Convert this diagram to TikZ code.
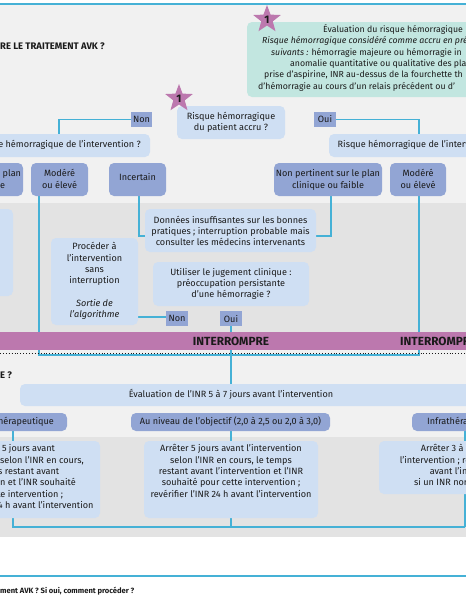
\documentclass[tikz,border=0pt]{standalone}
\usepackage{fontspec}
\setmainfont{Fira Sans}
\usetikzlibrary{shapes.geometric}
\definecolor{cline}{HTML}{45B1D6}
\definecolor{pale}{HTML}{CFDFF3}
\definecolor{chip}{HTML}{92A5D4}
\definecolor{teal}{HTML}{C2E6E0}
\definecolor{purp}{HTML}{BC78AE}
\definecolor{bgl}{HTML}{F1F1F1}
\definecolor{bgd}{HTML}{E3E3E3}
\definecolor{ink}{HTML}{1A1A1A}
\tikzset{x=1pt,y=-1pt,
 conn/.style={draw=cline,line width=1.3pt},
 tx/.style={text=ink,font=\fontsize{9.1}{11.3}\selectfont,align=center,inner sep=0pt},
 lab/.style={fill=chip,text=ink,font=\fontsize{9.1}{10}\selectfont,inner sep=0pt,minimum width=21.5pt,minimum height=15pt},
 starm/.style={star,star points=5,star point ratio=2.4,fill=purp,inner sep=0pt,minimum size=29pt,font=\bfseries\fontsize{11}{11}\selectfont,text=ink},
 head/.style={text=ink,font=\bfseries\fontsize{9.5}{11}\selectfont,inner sep=0pt,anchor=west}
}
\begin{document}
\begin{tikzpicture}
\useasboundingbox (0,0) rectangle (466,600);
\fill[white] (0,0) rectangle (466,600);
\fill[bgl] (0,4) rectangle (466,203);
\fill[bgd] (0,203) rectangle (466,332);
\fill[bgl] (0,350) rectangle (466,437);
\fill[bgd] (0,437) rectangle (466,537);
% frame lines
\draw[conn] (0,4) coordinate (t1) -- (466,4) coordinate (t2);
\draw[conn] (0,576) coordinate (b1) -- (466,576) coordinate (b2);
% connectors
\coordinate (nonL) at (131,119.5);
\coordinate (ouiR) at (336,119.5);
\coordinate (jA) at (39,355);
\coordinate (jB) at (419,355);
\coordinate (jO) at (231,384);
\draw[conn] (nonL) -| (59,134);
\draw[conn] (ouiR) -| (419,134);
\draw[conn] (39,196) -- (jA) -- (jB) -- (419,196);
\draw[conn] (139,196) |- (145,236);
\draw[conn] (331,196) |- (316,236);
\draw[conn] (138,317) -- (166,317);
\draw[conn] (231,326) -- (jO);
\draw[conn] (13,431) -- (13,441);
\draw[conn] (231,431) -- (231,441);
\draw[conn] (465,431) -- (465,527);
\draw[conn] (13,518) -- (13,527) -- (465,527);
\draw[conn] (231,518) -- (231,527);
% bar
\fill[purp] (0,332) rectangle (466,350);
\node[tx,font=\bfseries\fontsize{11.8}{13}\selectfont] (i1) at (231,341) {INTERROMPRE};
\node[tx,font=\bfseries\fontsize{11.8}{13}\selectfont,anchor=west] (i2) at (400,341) {INTERROMPRE};
\draw[ink,line width=.9pt,dotted] (0,353) -- (466,353);
% boxes
\begin{scope}
\clip (0,0) rectangle (466,600);
\fill[teal,rounded corners=5pt] (247,22) rectangle (520,97);
\fill[pale,rounded corners=5pt] (177,106) rectangle (285,139);
\fill[pale,rounded corners=5pt] (-40,134) rectangle (150,157);
\fill[pale,rounded corners=5pt] (329,134) rectangle (520,157);
\fill[chip,rounded corners=5pt] (-40,163) rectangle (23,196);
\fill[chip,rounded corners=5pt] (31,163) rectangle (88,196);
\fill[chip,rounded corners=5pt] (109,163) rectangle (166,196);
\fill[chip,rounded corners=5pt] (274,163) rectangle (382,196);
\fill[chip,rounded corners=5pt] (390,163) rectangle (446,196);
\fill[pale,rounded corners=5pt] (-40,209) rectangle (13,296);
\fill[pale,rounded corners=5pt] (145,209) rectangle (316,252);
\fill[pale,rounded corners=5pt] (153,262) rectangle (309,306);
\fill[pale,rounded corners=5pt] (51,238) rectangle (138,325);
\fill[pale,rounded corners=5pt] (20,384) rectangle (520,406);
\fill[chip,rounded corners=5pt] (-40,413) rectangle (67,431);
\fill[chip,rounded corners=5pt] (131,413) rectangle (330,431);
\fill[chip,rounded corners=5pt] (412,413) rectangle (520,431);
\fill[pale,rounded corners=5pt] (-40,441) rectangle (100,518);
\fill[pale,rounded corners=5pt] (144,441) rectangle (318,518);
\fill[pale,rounded corners=5pt] (379,441) rectangle (520,494);
% texts
\node[head] (h1) at (0,46) {RE LE TRAITEMENT AVK ?};
\node[head] (h2) at (0,375) {E ?};
\node[tx,anchor=west,font=\bfseries\fontsize{7.6}{9}\selectfont] (h3) at (0,591) {ment AVK ? Si oui, comment procéder ?};
\node[tx,anchor=north west,align=left,font=\fontsize{8.75}{11.3}\selectfont] (t0) at (262,24.5) {\hspace*{61pt}Évaluation du risque hémorragique\\
\textit{Risque hémorragique considéré comme accru en pré}\\
\hspace*{9pt}\textit{suivants :} hémorragie majeure ou hémorragie in\\
\hspace*{28pt}anomalie quantitative ou qualitative des pla\\
\hspace*{2pt}prise d’aspirine, INR au-dessus de la fourchette th\\
\hspace*{-4pt}d’hémorragie au cours d’un relais précédent ou d’};
\node[tx] (r0) at (231,122.5) {Risque hémorragique\\du patient accru ?};
\node[tx,anchor=east] (r1) at (141,145) {Risque hémorragique de l’intervention ?};
\node[tx,anchor=west] (r2) at (337.5,145) {Risque hémorragique de l’intervention ?};
\node[tx] (m0) at (-31,180) {Non pertinent sur le plan\\clinique ou faible};
\node[tx] (m1) at (59.5,179) {Modéré\\ou élevé};
\node[tx] (m2) at (137.5,177) {Incertain};
\node[tx] (m3) at (328,180) {Non pertinent sur le plan\\clinique ou faible};
\node[tx] (m4) at (418,179) {Modéré\\ou élevé};
\node[tx] (d) at (230.5,231) {Données insuffisantes sur les bonnes\\pratiques ; interruption probable mais\\consulter les médecins intervenants};
\node[tx] (u) at (231,284) {Utiliser le jugement clinique :\\préoccupation persistante\\d’une hémorragie ?};
\node[tx] (p) at (94.5,281) {Procéder à\\l’intervention\\sans\\interruption\\[11.3pt]\textit{Sortie de}\\\textit{l’algorithme}};
\node[tx] (e) at (231,394.5) {Évaluation de l’INR 5 à 7 jours avant l’intervention};
\node[tx,anchor=east] (c1) at (54,422) {Infrathérapeutique};
\node[tx] (c2) at (230.5,422) {Au niveau de l’objectif (2,0 à 2,5 ou 2,0 à 3,0)};
\node[tx,anchor=west] (c3) at (427,422) {Infrathérapeutique};
\node[tx,anchor=north] (bl) at (13,444.5) {Arrêter 5 jours avant\\l’intervention selon l’INR en cours,\\le temps restant avant\\l’intervention et l’INR souhaité\\pour cette intervention ;\\revérifier l’INR 24 h avant l’intervention};
\node[tx,anchor=north] (bm) at (231,444.5) {Arrêter 5 jours avant l’intervention\\selon l’INR en cours, le temps\\restant avant l’intervention et l’INR\\souhaité pour cette intervention ;\\revérifier l’INR 24 h avant l’intervention};
\node[tx,anchor=north] (br) at (470,444.5) {Arrêter 3 à 4 jours avant\\l’intervention ; revérifier l’INR 24 h\\avant l’intervention\\si un INR normal est requis};
\end{scope}
\node[lab] (nl) at (141.5,119.5) {Non};
\node[lab] (ol) at (325,119.5) {Oui};
\node[lab] (nl2) at (177,318.5) {Non};
\node[lab] (ol2) at (231,318.5) {Oui};
\node[starm] (s1) at (179,98.5) {\raisebox{-2pt}{1}};
\node[starm] (s2) at (267,19.5) {\raisebox{-2pt}{1}};
\end{tikzpicture}
\end{document}
